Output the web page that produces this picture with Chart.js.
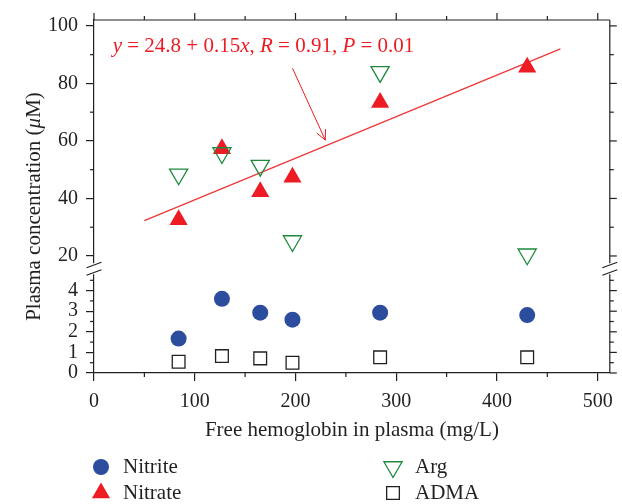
<!DOCTYPE html>
<html>
<head>
<meta charset="utf-8">
<script src="https://cdn.jsdelivr.net/npm/chart.js@4.4.0/dist/chart.umd.min.js"></script>
<style>
  html, body { margin: 0; padding: 0; background: #fff; }
  #wrap { width: 622px; height: 504px; }
</style>
</head>
<body>
<div id="wrap"><canvas id="plasmaChart" width="622" height="504"></canvas></div>
<script>
// values
const hemoglobin = [84, 127, 165, 197, 284, 430];
const nitrite = [1.67, 3.6, 2.93, 2.59, 2.93, 2.81];
const nitrate = [32.6, 57.3, 42.3, 47.4, 73.4, 85.6];
const arg = [48.4, 55.8, 51.4, 25.2, 84.0, 20.6];
const adma = [0.55, 0.82, 0.71, 0.50, 0.76, 0.76];

// regression line as drawn (end points)
const fitX = [50, 463];
const fitY = [32.3, 92];

const xTicks = [0, 100, 200, 300, 400, 500];
const xMinor = [50, 150, 250, 350, 450];
const upperTicks = [20, 40, 60, 80, 100];
const upperMinor = [30, 50, 70, 90];
const lowerTicks = [0, 1, 2, 3, 4];
const lowerMinor = [0.5, 1.5, 2.5, 3.5, 4.5];

const fitText = [['y', true], [' = 24.8 + 0.15', false], ['x', true], [', ', false], ['R', true], [' = 0.91, ', false], ['P', true], [' = 0.01', false]];
const yTitle = [['Plasma concentration (', false], ['\u03bc', true], ['M)', false]];

const ink = '#231f20';
const red = '#ed1c24';
const serif = "'Liberation Serif', 'Times New Roman', serif";
const tickSize = 20;
const textSize = 21;

const fixTicks = (values) => (scale) => { scale.ticks = values.map((v) => ({ value: v })); };
const pts = (xs, ys) => xs.map((x, i) => ({ x: x, y: ys[i] }));

function drawRich(ctx, parts, x, y) {
    let cx = x;
    parts.forEach(([txt, it]) => {
        ctx.font = (it ? 'italic ' : '') + textSize + 'px ' + serif;
        ctx.fillText(txt, cx, y);
        cx += ctx.measureText(txt).width;
    });
}
function richWidth(ctx, parts) {
    let w = 0;
    parts.forEach(([txt, it]) => {
        ctx.font = (it ? 'italic ' : '') + textSize + 'px ' + serif;
        w += ctx.measureText(txt).width;
    });
    return w;
}

const decor = {
    id: 'decor',
    afterDraw(chart) {
        const { ctx, chartArea: a, scales } = chart;
        const xs = scales.x, yh = scales.yHigh, yl = scales.yLow;
        const seg = (x1, y1, x2, y2) => { ctx.beginPath(); ctx.moveTo(x1, y1); ctx.lineTo(x2, y2); ctx.stroke(); };
        ctx.save();
        ctx.strokeStyle = ink;
        ctx.lineWidth = 1.2;

        // top and right frame with outward ticks
        seg(a.left, a.top, a.right, a.top);
        seg(a.right, a.top, a.right, a.bottom);
        xTicks.forEach((v) => { const p = xs.getPixelForValue(v); seg(p, a.top, p, a.top - 7); });
        xMinor.forEach((v) => {
            const p = xs.getPixelForValue(v);
            seg(p, a.top, p, a.top - 4);
            seg(p, a.bottom, p, a.bottom + 4);
        });
        upperTicks.forEach((v) => { const p = yh.getPixelForValue(v); seg(a.right, p, a.right + 7, p); });
        lowerTicks.forEach((v) => { const p = yl.getPixelForValue(v); seg(a.right, p, a.right + 7, p); });
        upperMinor.forEach((v) => {
            const p = yh.getPixelForValue(v);
            seg(a.left, p, a.left - 4, p);
            seg(a.right, p, a.right + 4, p);
        });
        lowerMinor.forEach((v) => {
            const p = yl.getPixelForValue(v);
            seg(a.left, p, a.left - 4, p);
            seg(a.right, p, a.right + 4, p);
        });

        // axis break
        const b = yl.top;
        [a.left, a.right].forEach((ax) => {
            ctx.fillStyle = '#fff';
            ctx.fillRect(ax - 2, b - 5.5, 4, 11);
            seg(ax - 7.5, b - 1, ax + 7.5, b - 6.5);
            seg(ax - 7.5, b + 6.5, ax + 7.5, b + 1);
        });

        // regression label and arrow
        ctx.strokeStyle = red;
        ctx.fillStyle = red;
        ctx.lineWidth = 1;
        const x0 = xs.getPixelForValue(197), y0 = yh.getPixelForValue(85.3);
        const x1 = xs.getPixelForValue(229.6), y1 = yh.getPixelForValue(60.3);
        seg(x0, y0, x1, y1);
        const ang = Math.atan2(y1 - y0, x1 - x0);
        [0.45, -0.45].forEach((d) => seg(x1, y1, x1 - 11 * Math.cos(ang + d), y1 - 11 * Math.sin(ang + d)));
        ctx.textBaseline = 'alphabetic';
        ctx.textAlign = 'left';
        drawRich(ctx, fitText, xs.getPixelForValue(18.5), yh.getPixelForValue(90.9));

        // y title
        ctx.fillStyle = ink;
        ctx.save();
        ctx.translate(34, (a.top + a.bottom) / 2 + 10);
        ctx.rotate(-Math.PI / 2);
        ctx.textBaseline = 'middle';
        drawRich(ctx, yTitle, -richWidth(ctx, yTitle) / 2, 0);
        ctx.restore();

        // legend in two columns
        const slots = [[101, 467], [101, 493], [393, 467], [393, 493]];
        chart.data.datasets.slice(0, 4).forEach((ds, i) => {
            const [lx, ly] = slots[i];
            ctx.fillStyle = ds.pointBackgroundColor;
            ctx.strokeStyle = ds.pointBorderColor;
            ctx.lineWidth = ds.pointBorderWidth;
            Chart.helpers.drawPoint(ctx, {
                pointStyle: ds.pointStyle, radius: ds.pointRadius,
                rotation: ds.pointRotation || 0, borderWidth: ds.pointBorderWidth
            }, lx, ly);
            ctx.fillStyle = ink;
            ctx.textBaseline = 'middle';
            ctx.font = textSize + 'px ' + serif;
            ctx.fillText(ds.label, lx + 22, ly);
        });
        ctx.restore();
    }
};

const axisLine = { display: true, color: ink, width: 1.2 };
const tickGrid = { drawOnChartArea: false, drawTicks: true, tickLength: 8, color: ink, lineWidth: 1.2 };
const tickFont = { family: serif, size: tickSize };

new Chart(document.getElementById('plasmaChart'), {
    type: 'scatter',
    data: {
        datasets: [
            {
                label: 'Nitrite', data: pts(hemoglobin, nitrite), yAxisID: 'yLow', order: 1,
                pointStyle: 'circle', pointRadius: 8, pointBackgroundColor: '#2c4d9e',
                pointBorderColor: '#2c4d9e', pointBorderWidth: 0
            },
            {
                label: 'Nitrate', data: pts(hemoglobin, nitrate), yAxisID: 'yHigh', order: 3,
                pointStyle: 'triangle', pointRadius: 10.5, pointBackgroundColor: red,
                pointBorderColor: red, pointBorderWidth: 0
            },
            {
                label: 'Arg', data: pts(hemoglobin, arg), yAxisID: 'yHigh', order: 2,
                pointStyle: 'triangle', pointRotation: 180, pointRadius: 10.5,
                pointBackgroundColor: 'rgba(0,0,0,0)', pointBorderColor: '#1d8a3c', pointBorderWidth: 1.3
            },
            {
                label: 'ADMA', data: pts(hemoglobin, adma), yAxisID: 'yLow', order: 1,
                pointStyle: 'rect', pointRadius: 9, pointBackgroundColor: '#fff',
                pointBorderColor: ink, pointBorderWidth: 1.3
            },
            {
                label: 'fit', data: pts(fitX, fitY), yAxisID: 'yHigh', order: 5,
                showLine: true, pointRadius: 0, borderColor: '#ee3636', borderWidth: 1.2, fill: false
            }
        ]
    },
    options: {
        responsive: false,
        animation: false,
        events: [],
        layout: { padding: { top: 14, right: 12, left: 0, bottom: 56 } },
        plugins: { legend: { display: false }, tooltip: { enabled: false } },
        scales: {
            x: {
                type: 'linear', position: 'bottom', min: 0, max: 512,
                afterBuildTicks: fixTicks(xTicks),
                afterFit: (s) => { s.height = 75; },
                border: axisLine, grid: tickGrid,
                ticks: { font: tickFont, color: ink, padding: 9, maxRotation: 0, autoSkip: false },
                title: {
                    display: true, text: 'Free hemoglobin in plasma (mg/L)',
                    font: { family: serif, size: textSize }, color: ink, padding: { top: 0, bottom: 5 }
                }
            },
            yLow: {
                type: 'linear', position: 'left', stack: 'conc', stackWeight: 106,
                min: 0, max: 5.06,
                afterBuildTicks: fixTicks(lowerTicks),
                afterFit: (s) => { s.width = 94; },
                border: axisLine, grid: tickGrid,
                ticks: { font: tickFont, color: ink, padding: 8, autoSkip: false }
            },
            yHigh: {
                type: 'linear', position: 'left', stack: 'conc', stackWeight: 253,
                min: 15.55, max: 102.05,
                afterBuildTicks: fixTicks(upperTicks),
                afterFit: (s) => { s.width = 94; },
                border: axisLine, grid: tickGrid,
                ticks: { font: tickFont, color: ink, padding: 8, autoSkip: false }
            }
        }
    },
    plugins: [decor]
});
</script>
</body>
</html>
